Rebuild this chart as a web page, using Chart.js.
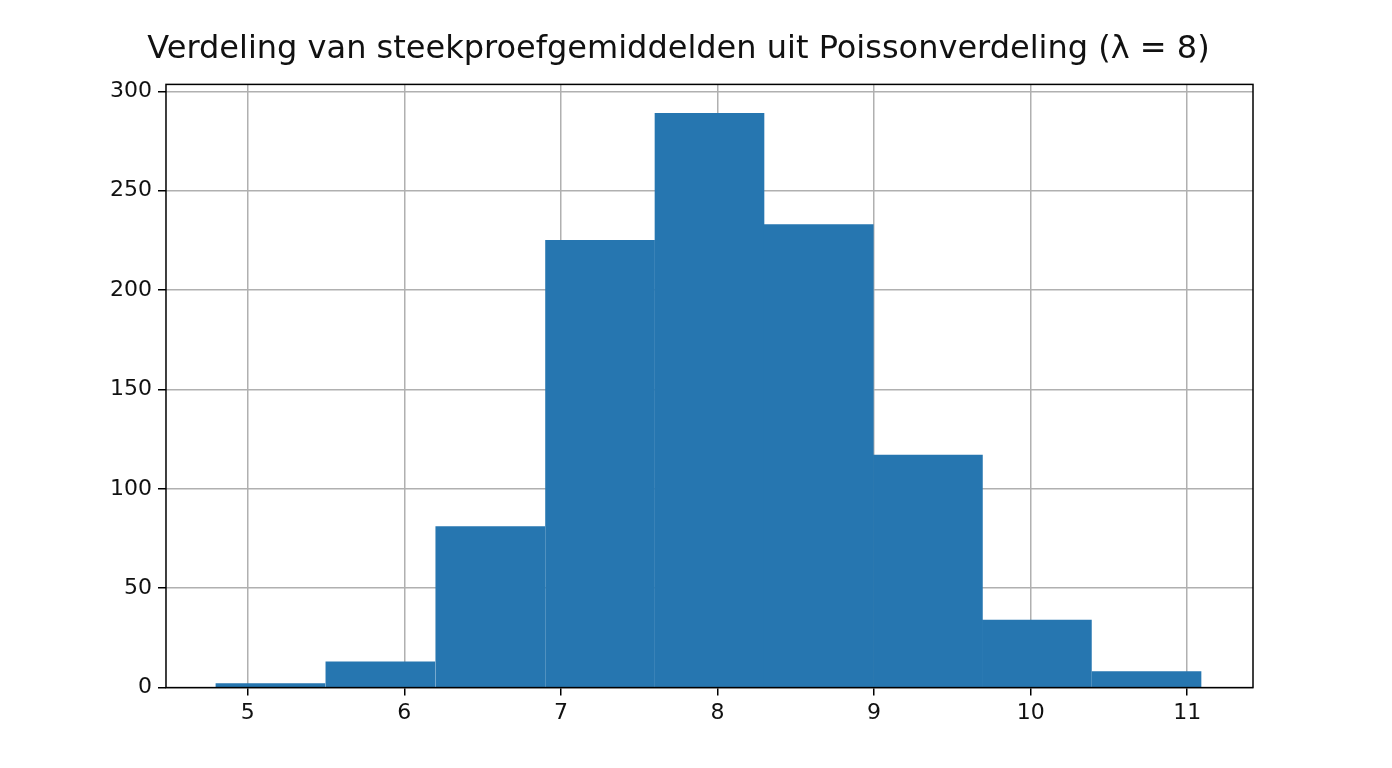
<!DOCTYPE html>
<html><head><meta charset="utf-8">
<script src="https://cdn.jsdelivr.net/npm/chart.js@4"></script>
<style>html,body{margin:0;background:#fff}#wrap{position:absolute;left:0;top:0;width:1392px;height:768px}</style>
</head><body><div id="wrap"><canvas id="c"></canvas></div>
<script>
'use strict';
const binCenters=[5.145,5.847,6.549,7.25,7.949,8.647,9.344,10.04,10.74];
const counts=[2,13,81,225,289,233,117,34,8];
const xTicks=[5,6,7,8,9,10,11];
const yTicks=[0,50,100,150,200,250,300];
const frame={id:'frame',afterDraw(ch){const a=ch.chartArea,x=ch.ctx;x.save();x.strokeStyle='#000';x.lineWidth=1.5;x.strokeRect(a.left,a.top,a.right-a.left,a.bottom-a.top);x.restore();}};
const font={family:'"DejaVu Sans"',size:22};
new Chart(document.getElementById('c'),{type:'bar',
  data:{datasets:[{data:binCenters.map((x,i)=>({x,y:counts[i]})),backgroundColor:'#2676b0',barPercentage:1,categoryPercentage:1,borderWidth:0}]},
  options:{responsive:true,maintainAspectRatio:false,animation:false,
    layout:{padding:{left:104,right:139,top:0,bottom:38}},
    plugins:{legend:{display:false},tooltip:{enabled:false},
      title:{display:true,text:'Verdeling van steekproefgemiddelden uit Poissonverdeling (λ = 8)',color:'#111',font:{family:'"DejaVu Sans"',size:32,weight:'normal'},padding:{top:30,bottom:16}}},
    scales:{
      x:{type:'linear',min:4.478,max:11.42,z:1,offset:false,
        afterBuildTicks:s=>{s.ticks=xTicks.map(v=>({value:v}));},
        ticks:{color:'#111',font,padding:4},
        grid:{offset:false,color:'#b0b0b0',lineWidth:1.5,tickLength:8,tickColor:'#000'},border:{display:false}},
      y:{min:0,max:303.5,z:1,
        afterBuildTicks:s=>{s.ticks=yTicks.map(v=>({value:v}));},
        ticks:{color:'#111',font,padding:6},
        grid:{color:'#b0b0b0',lineWidth:1.5,tickLength:8,tickColor:'#000'},border:{display:false}}
    }}
  ,plugins:[frame]});
</script></body></html>
